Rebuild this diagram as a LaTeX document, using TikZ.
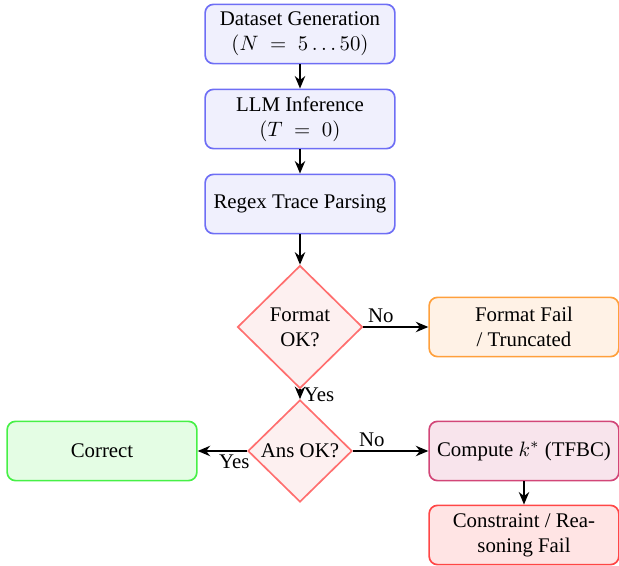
\documentclass[tikz,border=0pt]{standalone}
\usepackage[no-math]{fontspec}
\setmainfont{Liberation Serif}
\usetikzlibrary{shapes.geometric,arrows.meta}
\definecolor{bluebd}{RGB}{110,110,245}
\definecolor{bluefl}{RGB}{240,240,253}
\definecolor{redbd}{RGB}{255,110,110}
\definecolor{redfl}{RGB}{253,240,240}
\definecolor{orangebd}{RGB}{255,160,60}
\definecolor{orangefl}{RGB}{255,242,230}
\definecolor{greenbd}{RGB}{70,240,70}
\definecolor{greenfl}{RGB}{228,253,228}
\definecolor{purpbd}{RGB}{210,70,120}
\definecolor{purpfl}{RGB}{248,228,236}
\definecolor{failbd}{RGB}{255,70,70}
\definecolor{failfl}{RGB}{255,228,228}
\tikzset{
  box/.style={rectangle, rounded corners=4pt, thick, minimum width=3.2cm, minimum height=1cm, align=center, font=\fontsize{10}{12}\selectfont},
  procbox/.style={box, draw=bluebd, fill=bluefl},
  decision/.style={diamond, aspect=1, thick, draw=redbd, fill=redfl, inner sep=1pt, align=center},
  failbox/.style={box, draw=orangebd, fill=orangefl},
  okbox/.style={box, draw=greenbd, fill=greenfl},
  tfbcbox/.style={box, draw=purpbd, fill=purpfl},
  errbox/.style={box, draw=failbd, fill=failfl},
  flow/.style={-{Stealth[length=6pt,width=5pt]}, thick},
  lbl/.style={font=\fontsize{10}{12}\selectfont, inner sep=1.5pt}
}
\begin{document}
\begin{tikzpicture}[x=0.48pt,y=-0.48pt]
\useasboundingbox (0,0) rectangle (619,566);
\node[procbox] (gen) at (300,34) {Dataset Generation\\$(N\;=\;5\ldots50)$};
\node[procbox] (llm) at (300,119) {LLM Inference\\$(T\;=\;0)$};
\node[procbox] (regex) at (300,204) {Regex Trace Parsing};
\node[decision, minimum width=60pt, minimum height=59pt] (fmt) at (300,327) {Format\\OK?};
\node[failbox] (ffail) at (524,327) {Format Fail\\/ Truncated};
\node[decision, minimum width=50pt, minimum height=49pt] (ans) at (300,451) {Ans OK?};
\node[okbox] (correct) at (102,451) {Correct};
\node[tfbcbox] (tfbc) at (524,451) {Compute $k^{*}$ (TFBC)};
\node[errbox] (cfail) at (524,535) {Constraint / Rea-\\soning Fail};
\draw[flow] (gen) -- (llm);
\draw[flow] (llm) -- (regex);
\draw[flow] (regex) -- (fmt);
\draw[flow] (fmt) -- node[lbl, pos=0.27, above] {No} (ffail);
\draw[flow] (fmt) -- node[lbl, pos=0.6, right] {Yes} (ans);
\draw[flow] (ans) -- node[lbl, pos=0.25, above] {No} (tfbc);
\draw[flow] (ans) -- node[lbl, pos=0.26, below] {Yes} (correct);
\draw[flow] (tfbc) -- (cfail);
\end{tikzpicture}
\end{document}
